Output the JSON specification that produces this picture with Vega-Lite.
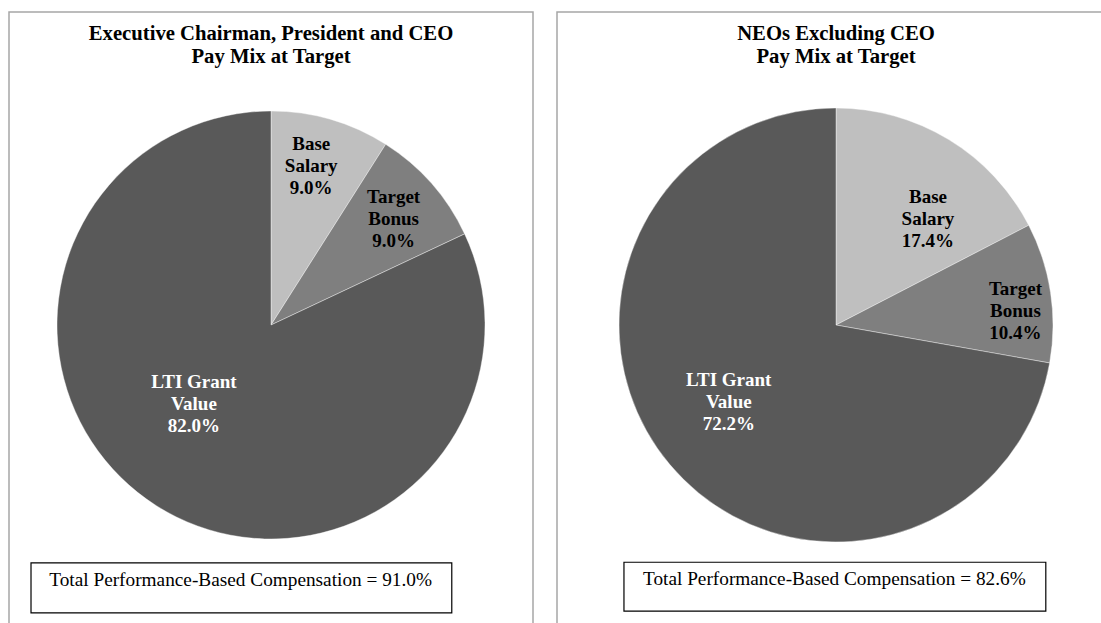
{
  "$schema": "https://vega.github.io/schema/vega-lite/v6.json",
  "padding": {"left": 8, "top": 11, "right": 0, "bottom": 0},
  "background": "white",
  "spacing": 22,
  "config": {
    "view": {"stroke": "#a6a6a6", "strokeWidth": 1.5},
    "font": "Liberation Serif",
    "text": {"font": "Liberation Serif"}
  },
  "datasets": {
    "pay": [
      {"panel": "ceo", "category": "Base Salary", "ord": 1, "value": 9.0, "label": "Base\nSalary"},
      {"panel": "ceo", "category": "Target Bonus", "ord": 2, "value": 9.0, "label": "Target\nBonus"},
      {"panel": "ceo", "category": "LTI Grant Value", "ord": 3, "value": 82.0, "label": "LTI Grant\nValue"},
      {"panel": "neo", "category": "Base Salary", "ord": 1, "value": 17.4, "label": "Base\nSalary"},
      {"panel": "neo", "category": "Target Bonus", "ord": 2, "value": 10.4, "label": "Target\nBonus"},
      {"panel": "neo", "category": "LTI Grant Value", "ord": 3, "value": 72.2, "label": "LTI Grant\nValue"}
    ]
  },
  "hconcat": [
    {
      "width": 524,
      "height": 626,
      "title": {"text": ["Executive Chairman, President and CEO", "Pay  Mix at Target"], "fontSize": 20.7, "fontWeight": "bold", "font": "Liberation Serif", "lineHeight": 23, "baseline": "top", "offset": -56, "color": "black"},
      "data": {"name": "pay"},
      "transform": [
        {"filter": "datum.panel === 'ceo'"},
        {"calculate": "datum.label + '\\n' + format(datum.value, '.1f') + '%'", "as": "txt"}
      ],
      "layer": [
        {
          "mark": {"type": "arc", "radius": 214, "stroke": "white", "strokeWidth": 0.4},
          "encoding": {
            "theta": {"field": "value", "type": "quantitative", "stack": true},
            "order": {"field": "ord", "type": "quantitative"},
            "color": {"field": "category", "type": "nominal", "legend": null, "scale": {"domain": ["Base Salary", "Target Bonus", "LTI Grant Value"], "range": ["#bfbfbf", "#7f7f7f", "#595959"]}}
          }
        },
        {
          "mark": {"type": "text", "radius": 164, "thetaOffset": -0.035, "dy": -22, "font": "Liberation Serif", "fontSize": 19, "fontWeight": "bold", "lineHeight": 22, "lineBreak": "\n", "fill": "black", "baseline": "middle", "align": "center"},
          "encoding": {
            "theta": {"field": "value", "type": "quantitative", "stack": true},
            "order": {"field": "ord", "type": "quantitative"},
            "text": {"condition": {"test": "datum.category === 'Base Salary'", "field": "txt"}, "value": ""}
          }
        },
        {
          "mark": {"type": "text", "radius": 162, "thetaOffset": 0.01, "dy": -22, "font": "Liberation Serif", "fontSize": 19, "fontWeight": "bold", "lineHeight": 22, "lineBreak": "\n", "fill": "black", "baseline": "middle", "align": "center"},
          "encoding": {
            "theta": {"field": "value", "type": "quantitative", "stack": true},
            "order": {"field": "ord", "type": "quantitative"},
            "text": {"condition": {"test": "datum.category === 'Target Bonus'", "field": "txt"}, "value": ""}
          }
        },
        {
          "mark": {"type": "text", "radius": 110, "thetaOffset": 0.21, "dy": -22, "font": "Liberation Serif", "fontSize": 19, "fontWeight": "bold", "lineHeight": 22, "lineBreak": "\n", "fill": "white", "baseline": "middle", "align": "center"},
          "encoding": {
            "theta": {"field": "value", "type": "quantitative", "stack": true},
            "order": {"field": "ord", "type": "quantitative"},
            "text": {"condition": {"test": "datum.category === 'LTI Grant Value'", "field": "txt"}, "value": ""}
          }
        },
        {
          "data": {"values": [{"note": "Total Performance-Based Compensation = 91.0%"}]},
          "transform": [],
          "mark": {"type": "rect", "fill": "white", "stroke": "black", "strokeWidth": 1.2},
          "encoding": {
            "x": {"datum": 0.042, "type": "quantitative", "scale": {"domain": [0, 1]}, "axis": null},
            "x2": {"datum": 0.845},
            "y": {"datum": 0.880, "type": "quantitative", "scale": {"domain": [0, 1], "reverse": true}, "axis": null},
            "y2": {"datum": 0.960}
          }
        },
        {
          "data": {"values": [{"note": "Total Performance-Based Compensation = 91.0%"}]},
          "transform": [],
          "mark": {"type": "text", "font": "Liberation Serif", "fontSize": 19.3, "fill": "black", "baseline": "middle", "align": "center"},
          "encoding": {
            "x": {"datum": 0.442, "type": "quantitative", "scale": {"domain": [0, 1]}, "axis": null},
            "y": {"datum": 0.907, "type": "quantitative", "scale": {"domain": [0, 1], "reverse": true}, "axis": null},
            "text": {"field": "note"}
          }
        }
      ]
    },
    {
      "width": 558,
      "height": 626,
      "title": {"text": ["NEOs Excluding CEO", "Pay  Mix at Target"], "fontSize": 20.7, "fontWeight": "bold", "font": "Liberation Serif", "lineHeight": 23, "baseline": "top", "offset": -56, "color": "black"},
      "data": {"name": "pay"},
      "transform": [
        {"filter": "datum.panel === 'neo'"},
        {"calculate": "datum.label + '\\n' + format(datum.value, '.1f') + '%'", "as": "txt"}
      ],
      "layer": [
        {
          "mark": {"type": "arc", "radius": 217, "stroke": "white", "strokeWidth": 0.4},
          "encoding": {
            "theta": {"field": "value", "type": "quantitative", "stack": true},
            "order": {"field": "ord", "type": "quantitative"},
            "color": {"field": "category", "type": "nominal", "legend": null, "scale": {"domain": ["Base Salary", "Target Bonus", "LTI Grant Value"], "range": ["#bfbfbf", "#7f7f7f", "#595959"]}}
          }
        },
        {
          "mark": {"type": "text", "radius": 140, "thetaOffset": 0.17, "dy": -22, "font": "Liberation Serif", "fontSize": 19, "fontWeight": "bold", "lineHeight": 22, "lineBreak": "\n", "fill": "black", "baseline": "middle", "align": "center"},
          "encoding": {
            "theta": {"field": "value", "type": "quantitative", "stack": true},
            "order": {"field": "ord", "type": "quantitative"},
            "text": {"condition": {"test": "datum.category === 'Base Salary'", "field": "txt"}, "value": ""}
          }
        },
        {
          "mark": {"type": "text", "radius": 180, "thetaOffset": 0.073, "dy": -22, "font": "Liberation Serif", "fontSize": 19, "fontWeight": "bold", "lineHeight": 22, "lineBreak": "\n", "fill": "black", "baseline": "middle", "align": "center"},
          "encoding": {
            "theta": {"field": "value", "type": "quantitative", "stack": true},
            "order": {"field": "ord", "type": "quantitative"},
            "text": {"condition": {"test": "datum.category === 'Target Bonus'", "field": "txt"}, "value": ""}
          }
        },
        {
          "mark": {"type": "text", "radius": 132, "thetaOffset": 0.075, "dy": -22, "font": "Liberation Serif", "fontSize": 19, "fontWeight": "bold", "lineHeight": 22, "lineBreak": "\n", "fill": "white", "baseline": "middle", "align": "center"},
          "encoding": {
            "theta": {"field": "value", "type": "quantitative", "stack": true},
            "order": {"field": "ord", "type": "quantitative"},
            "text": {"condition": {"test": "datum.category === 'LTI Grant Value'", "field": "txt"}, "value": ""}
          }
        },
        {
          "data": {"values": [{"note": "Total Performance-Based Compensation = 82.6%"}]},
          "transform": [],
          "mark": {"type": "rect", "fill": "white", "stroke": "black", "strokeWidth": 1.2},
          "encoding": {
            "x": {"datum": 0.120, "type": "quantitative", "scale": {"domain": [0, 1]}, "axis": null},
            "x2": {"datum": 0.876},
            "y": {"datum": 0.879, "type": "quantitative", "scale": {"domain": [0, 1], "reverse": true}, "axis": null},
            "y2": {"datum": 0.957}
          }
        },
        {
          "data": {"values": [{"note": "Total Performance-Based Compensation = 82.6%"}]},
          "transform": [],
          "mark": {"type": "text", "font": "Liberation Serif", "fontSize": 19.3, "fill": "black", "baseline": "middle", "align": "center"},
          "encoding": {
            "x": {"datum": 0.497, "type": "quantitative", "scale": {"domain": [0, 1]}, "axis": null},
            "y": {"datum": 0.906, "type": "quantitative", "scale": {"domain": [0, 1], "reverse": true}, "axis": null},
            "text": {"field": "note"}
          }
        }
      ]
    }
  ]
}
